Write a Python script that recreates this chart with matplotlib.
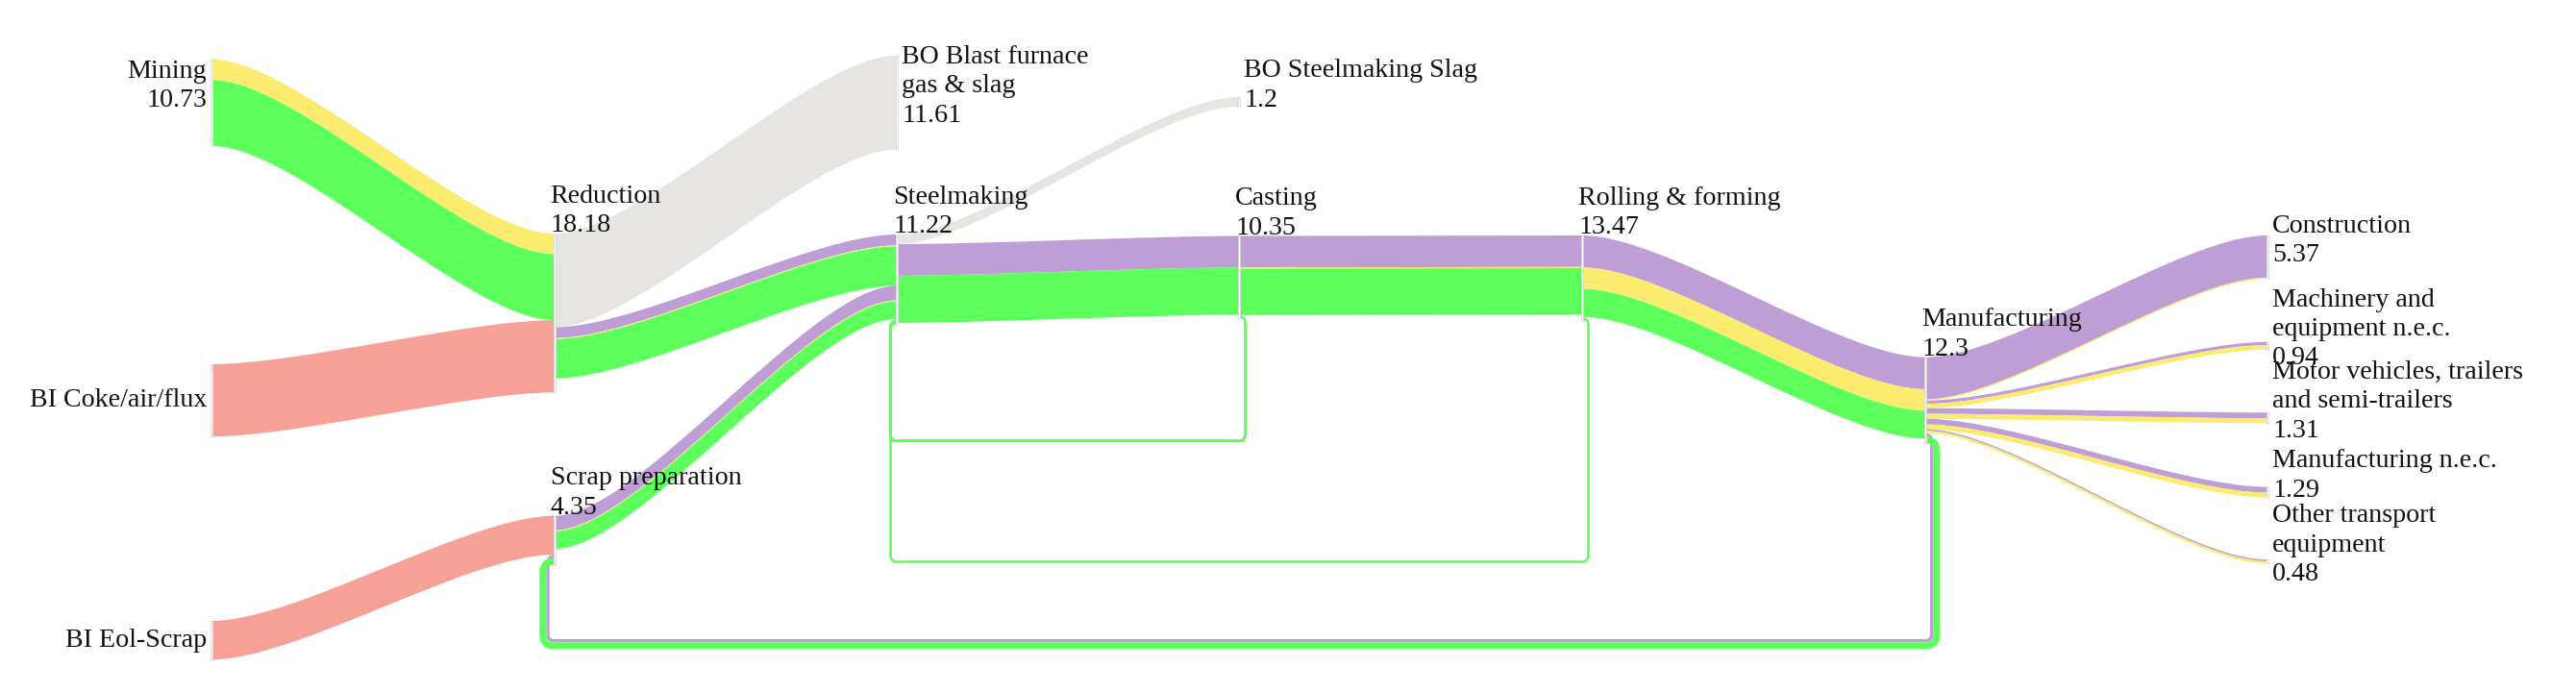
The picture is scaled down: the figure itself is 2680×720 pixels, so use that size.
import matplotlib
matplotlib.use("Agg")
import matplotlib.pyplot as plt
from matplotlib.path import Path
from matplotlib.patches import PathPatch, Rectangle

# ---- data ----
node_labels = [
    "Mining", "BI Coke/air/flux", "BI Eol-Scrap",
    "Reduction", "Scrap preparation",
    "BO Blast furnace\ngas & slag", "Steelmaking",
    "BO Steelmaking Slag", "Casting",
    "Rolling & forming",
    "Manufacturing",
    "Construction", "Machinery and\nequipment n.e.c.",
    "Motor vehicles, trailers\nand semi-trailers", "Manufacturing n.e.c.",
    "Other transport\nequipment",
]
node_values = ["10.73", None, None, "18.18", "4.35", "11.61", "11.22", "1.2",
               "10.35", "13.47", "12.3", "5.37", "0.94", "1.31", "1.29", "0.48"]

link_source = [0, 0, 1, 2, 3, 3, 3, 3, 4, 4, 4, 6, 6, 6, 8, 8, 8, 8, 8,
               9, 9, 9, 9, 9, 10, 10, 10, 10, 10, 10, 10, 10, 10, 10, 10, 10]
link_target = [3, 3, 3, 4, 5, 6, 6, 6, 6, 6, 6, 7, 8, 8, 9, 9, 9, 6, 6,
               10, 10, 10, 6, 6, 11, 11, 12, 12, 13, 13, 14, 14, 15, 15, 4, 4]
link_value = [2.55, 8.18, 8.95, 4.8, 11.61, 1.35, 0.12, 4.88, 1.8, 0.12, 2.2,
              1.2, 3.9, 5.85, 3.9, 0.15, 5.75, 0.08, 0.3,
              3.96, 2.65, 3.48, 0.05, 0.28,
              5.22, 0.15, 0.4, 0.54, 0.7, 0.61, 0.7, 0.59, 0.2, 0.28, 0.4, 0.85]
link_kind = ["y", "g", "s", "s", "o", "p", "y", "g", "p", "y", "g",
             "o", "p", "g", "p", "y", "g", "p", "g",
             "p", "y", "g", "p", "g",
             "p", "y", "p", "y", "p", "y", "p", "y", "p", "y", "p", "g"]

# ---- layout / style ----
kind_color = {"y": "#fbec70", "g": "#5dff5d", "p": "#be9ed4",
              "s": "#f7a098", "o": "#e6e5e1"}
node_col = [0, 0, 0, 1, 1, 2, 2, 3, 3, 4, 5, 6, 6, 6, 6, 6]
col_x = [220, 576.7, 933, 1289, 1646, 2003, 2359]
node_top = [61.7, 379, 646, 243, 536.7, 58, 244, 101, 245.5, 245, 371.7,
            245, 355.7, 429.3, 506.7, 582.3]
label_side = ["left", "left", "left", "above", "above", "right", "above",
              "right", "above", "above", "above",
              "right", "right", "right", "right", "right"]
loop_bottom = {(8, 6): 457, (9, 6): 583, (10, 4): 665}
k = 8.4          # px per unit
gap = 5
curv = 0.25

fig = plt.figure(figsize=(26.8, 7.2), dpi=100)
ax = fig.add_axes([0, 0, 1, 1])
ax.set_xlim(0, 2680)
ax.set_ylim(720, 0)
ax.axis("off")

n = len(node_labels)
out_off = [0.0] * n
in_off = [0.0] * n
circ = [node_col[t] <= node_col[s] for s, t in zip(link_source, link_target)]

# regular links first (stack from node top)
for i, (s, t, v) in enumerate(zip(link_source, link_target, link_value)):
    if circ[i]:
        continue
    w = v * k
    x0 = col_x[node_col[s]]
    x1 = col_x[node_col[t]]
    y0 = node_top[s] + out_off[s]
    y1 = node_top[t] + in_off[t]
    out_off[s] += w
    in_off[t] += w
    xa = x0 + curv * (x1 - x0)
    xb = x1 - curv * (x1 - x0)
    verts = [(x0, y0), (xa, y0), (xb, y1), (x1, y1),
             (x1, y1 + w), (xb, y1 + w), (xa, y0 + w), (x0, y0 + w), (x0, y0)]
    codes = [Path.MOVETO, Path.CURVE4, Path.CURVE4, Path.CURVE4,
             Path.LINETO, Path.CURVE4, Path.CURVE4, Path.CURVE4, Path.CLOSEPOLY]
    ax.add_patch(PathPatch(Path(verts, codes), facecolor=kind_color[link_kind[i]],
                           edgecolor="none", zorder=1))

# circular (backward) links below the nodes
loop_off = {}
for i, (s, t, v) in enumerate(zip(link_source, link_target, link_value)):
    if not circ[i]:
        continue
    w = v * k
    xs = col_x[node_col[s]]
    xt = col_x[node_col[t]]
    ys = node_top[s] + out_off[s] + w / 2
    yt = node_top[t] + in_off[t] + w / 2
    lo = loop_off.get((s, t), 0.0)
    loop_off[(s, t)] = lo + w
    xr = xs + gap + lo + w / 2
    xl = xt - gap - lo - w / 2
    yb = loop_bottom[(s, t)] + lo + w / 2
    out_off[s] += w
    in_off[t] += w
    r1 = xr - xs
    r2 = xt - xl
    verts = [(xs, ys), (xr - r1, ys), (xr, ys), (xr, ys + r1),
             (xr, yb - r1), (xr, yb), (xr - r1, yb),
             (xl + r2, yb), (xl, yb), (xl, yb - r2),
             (xl, yt + r2), (xl, yt), (xl + r2, yt), (xt, yt)]
    codes = [Path.MOVETO, Path.LINETO, Path.CURVE3, Path.CURVE3,
             Path.LINETO, Path.CURVE3, Path.CURVE3,
             Path.LINETO, Path.CURVE3, Path.CURVE3,
             Path.LINETO, Path.CURVE3, Path.CURVE3, Path.LINETO]
    ax.add_patch(PathPatch(Path(verts, codes), facecolor="none",
                           edgecolor=kind_color[link_kind[i]],
                           lw=w * 72 / 100, capstyle="butt", zorder=0.5))

# nodes and labels
font = dict(family=["Liberation Serif", "DejaVu Serif"], size=20.2, color="#111111")
for j in range(n):
    h = max(in_off[j], out_off[j])
    x = col_x[node_col[j]]
    ax.add_patch(Rectangle((x - 1, node_top[j]), 2, h, facecolor="white",
                           edgecolor="#d6d6d6", lw=0.6, zorder=3))
    txt = node_labels[j] if node_values[j] is None else node_labels[j] + "\n" + node_values[j]
    multi = "\n" in txt
    yc = node_top[j] + h / 2 - (17 if multi else 0)
    if label_side[j] == "left":
        ax.text(x - 5, yc, txt, ha="right", va="center", linespacing=1.28,
                zorder=4, **font)
    elif label_side[j] == "right":
        ax.text(x + 5, yc, txt, ha="left", va="center", linespacing=1.28,
                zorder=4, **font)
    else:
        ax.text(x - 4, node_top[j] + 4, txt, ha="left", va="bottom",
                linespacing=1.28, zorder=4, **font)

fig.savefig("out.png", dpi=100, facecolor="white")
